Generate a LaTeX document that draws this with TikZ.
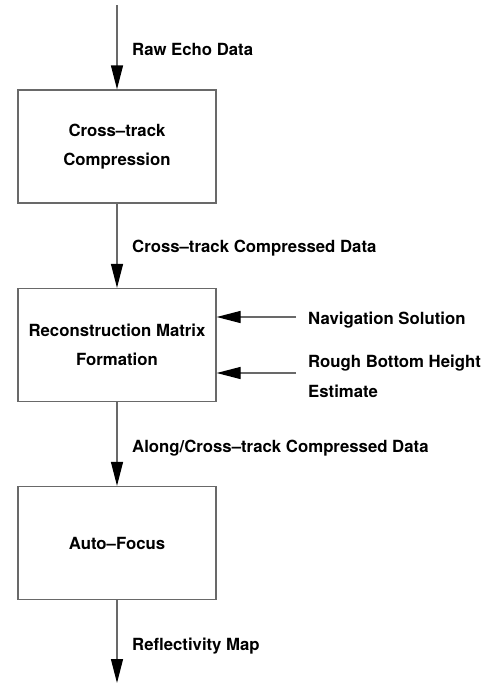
\documentclass[tikz,border=0pt]{standalone}
\usepackage{fontspec}
\setmainfont{TeX Gyre Heros}
\usetikzlibrary{arrows.meta}
\definecolor{lineg}{RGB}{105,105,105}
\tikzset{
  box/.style={draw=lineg, line width=1.3pt, minimum width=198pt, minimum height=113pt, align=center, inner sep=0pt,
    font=\fontsize{16.75}{28.5}\selectfont\bfseries},
  lbl/.style={anchor=base west, inner sep=0pt, font=\fontsize{16.75}{20}\selectfont\bfseries},
  arr/.style={draw=lineg, line width=1.3pt, -{Triangle[length=24pt,width=12pt,fill=black,color=black]}}
}
\begin{document}
\begin{tikzpicture}[x=1pt,y=-1pt]
\useasboundingbox (0,0) rectangle (492,683);
\node[box] (b1) at (117,146.5) {Cross–track\\Compression};
\node[box] (b2) at (117,345) {Reconstruction Matrix\\Formation};
\node[box] (b3) at (117,543) {Auto–Focus};
\coordinate (top) at (117,5);
\coordinate (bot) at (117,683);
\coordinate (nav) at (296,317);
\coordinate (rough) at (296,373);
\draw[arr] (top) -- (b1.north);
\draw[arr] (b1.south) -- (b2.north);
\draw[arr] (b2.south) -- (b3.north);
\draw[arr] (b3.south) -- (bot);
\draw[arr] (nav) -- (nav -| b2.east);
\draw[arr] (rough) -- (rough -| b2.east);
\node[lbl] (l1) at (132,55) {Raw Echo Data};
\node[lbl] (l2) at (132,252) {Cross–track Compressed Data};
\node[lbl] (l3) at (132,452) {Along/Cross–track Compressed Data};
\node[lbl] (l4) at (132,650) {Reflectivity Map};
\node[lbl] (l5) at (308,324) {Navigation Solution};
\node[lbl] (l6) at (308,367) {Rough Bottom Height};
\node[lbl] (l7) at (308,397) {Estimate};
\end{tikzpicture}
\end{document}
